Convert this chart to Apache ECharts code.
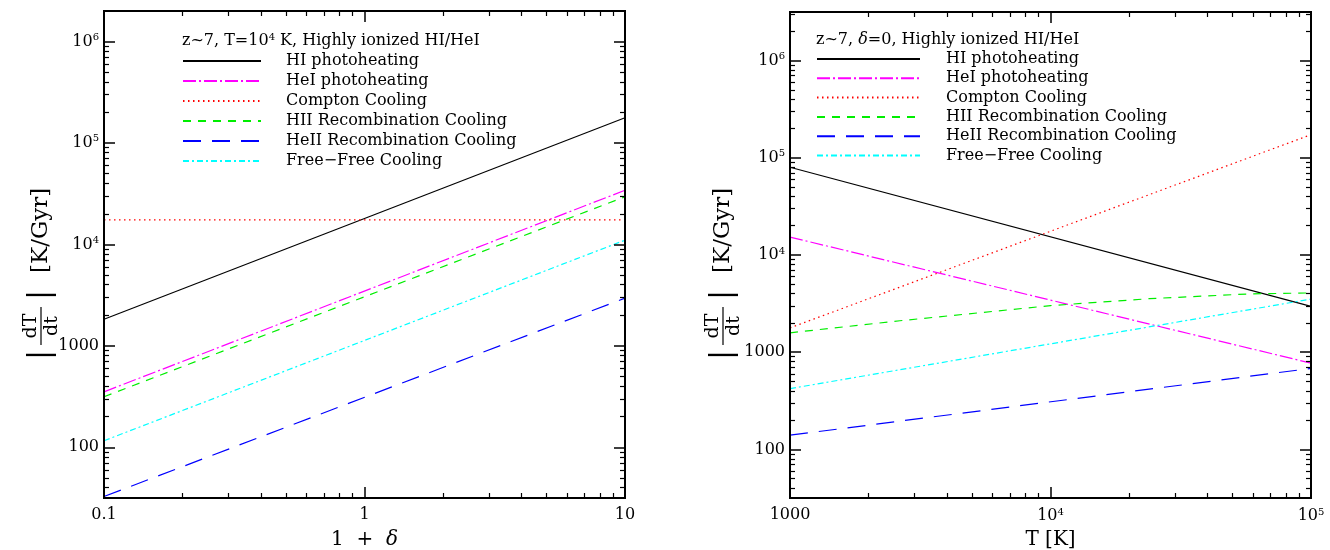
<!DOCTYPE html>
<html><head><meta charset="utf-8">
<script src="https://cdn.jsdelivr.net/npm/echarts@6/dist/echarts.min.js"></script>
<style>html,body{margin:0;padding:0;background:#fff}#c{width:1330px;height:550px}</style>
</head><body><div id="c"></div>
<script>
// ---------------- DATA ----------------
const seriesNames = ['HI photoheating','HeI photoheating','Compton Cooling','HII Recombination Cooling','HeII Recombination Cooling','Free\u2212Free Cooling'];

// Left panel: x = 1 + delta, z~7, T=1e4 K
const leftX = [0.1, 10];
const leftHI = [1830, 177000];
const leftHeI = [352, 34100];
const leftCompton = [17400, 17400];
const leftHII = [315, 29400];
const leftHeII = [32.7, 2950];
const leftFF = [116, 11000];

// Right panel: x = T [K], z~7, delta=0
const rightX = [1000, 100000];
const rightHI = [80000, 2960];
const rightHeI = [15300, 771];
const rightCompton = [1780, 173000];
const rightHIIx = [1000, 2640, 10000, 24000, 58000, 100000];
const rightHII = [1584, 2106, 3016, 3553, 3980, 4070];
const rightHeII = [140, 681];
const rightFF = [422, 3520];

// Tick values and labels
const leftXTicks = [0.1, 1, 10];
const leftXTickLabels = ['0.1', '1', '10'];
const rightXTicks = [1000, 10000, 100000];
const rightXTickLabels = ['1000', '10{s|4}', '10{s|5}'];
const yTicks = [100, 1000, 10000, 100000, 1000000];
const yTickLabels = ['100', '1000', '10{s|4}', '10{s|5}', '10{s|6}'];
const minorMult = [2, 3, 4, 5, 6, 7, 8, 9];
const leftXDecades = [0.1, 1];
const rightXDecades = [1000, 10000];
const yDecades = [10, 100, 1000, 10000, 100000, 1000000];

const leftTitle = 'z~7, T=10{s|4} K, Highly ionized HI/HeI';
const rightTitle = 'z~7, {i|\u03b4}=0, Highly ionized HI/HeI';
const leftXName = '1  +  {i|\u03b4}';
const rightXName = 'T [K]';

// ---------------- STYLE / BUILD ----------------
const FONT = 'DejaVu Serif';
const lineStyles = [
  {color: '#000000', type: 'solid'},
  {color: '#ff00ff', type: [13, 3, 2, 3]},
  {color: '#ff0000', type: [1.5, 3.5]},
  {color: '#00ee00', type: [8, 7]},
  {color: '#0000ff', type: [18, 11]},
  {color: '#00ffff', type: [6, 3, 2, 3]}
];

const LMIN = Math.pow(10, 1.5);
const YMAX_L = Math.pow(10, 6.3);
const YMAX_R = Math.pow(10, 6.5);

function minors(decades, lo, hi) {
  const out = [];
  decades.forEach(d => minorMult.forEach(m => { const v = d * m; if (v > lo && v < hi) out.push(v); }));
  return out;
}
function labelFor(ticks, labels) {
  return function (v) {
    let best = 0, bd = Infinity;
    ticks.forEach((t, i) => { const dd = Math.abs(Math.log10(v) - Math.log10(t)); if (dd < bd) { bd = dd; best = i; } });
    return labels[best];
  };
}
const richSup = {s: {fontSize: 10, fontFamily: FONT, padding: [0, 0, 8, 0]}, i: {fontStyle: 'italic', fontFamily: FONT, fontSize: 20}};

function makeAxes(dim, g, min, max, majors, labels, minorVals, name) {
  const axes = [];
  const positions = dim === 'x' ? ['bottom', 'top'] : ['left', 'right'];
  positions.forEach((pos, pi) => {
    [true, false].forEach(isMajor => {
      const ax = {
        type: 'log', logBase: 10, gridIndex: g, min: min, max: max, position: pos,
        splitLine: {show: false}, minorTick: {show: false}, minorSplitLine: {show: false},
        axisLine: {show: true, onZero: false, lineStyle: {color: '#000', width: 2}},
        axisTick: {show: true, inside: true, length: isMajor ? 11 : 5, customValues: isMajor ? majors : minorVals,
          lineStyle: {color: '#000', width: isMajor ? 1.5 : 1.2}},
        axisLabel: {show: false},
        silent: true, z: 5
      };
      if (pi === 0 && isMajor) {
        ax.axisLabel = {show: true, customValues: majors, formatter: labelFor(majors, labels),
          fontFamily: FONT, fontSize: 16, color: '#000', margin: dim === 'x' ? 9 : 5, rich: richSup, hideOverlap: false};
        if (name) {
          ax.name = name; ax.nameLocation = 'middle'; ax.nameGap = 32;
          ax.nameTextStyle = {fontFamily: FONT, fontSize: 20, color: '#000', rich: richSup};
        }
      }
      axes.push(ax);
    });
  });
  return axes;
}

const xAxes = [].concat(
  makeAxes('x', 0, 0.1, 10, leftXTicks, leftXTickLabels, minors(leftXDecades, 0.1, 10), leftXName),
  makeAxes('x', 1, 1000, 100000, rightXTicks, rightXTickLabels, minors(rightXDecades, 1000, 100000), rightXName)
);
const yAxes = [].concat(
  makeAxes('y', 0, LMIN, YMAX_L, yTicks, yTickLabels, minors(yDecades, LMIN, YMAX_L), null),
  makeAxes('y', 1, LMIN, YMAX_R, yTicks, yTickLabels, minors(yDecades, LMIN, YMAX_R), null)
);

function zip(xs, ys) { return ys.map((y, i) => [xs[i], y]); }
const leftData = [zip(leftX, leftHI), zip(leftX, leftHeI), zip(leftX, leftCompton), zip(leftX, leftHII), zip(leftX, leftHeII), zip(leftX, leftFF)];
const rightData = [zip(rightX, rightHI), zip(rightX, rightHeI), zip(rightX, rightCompton), zip(rightHIIx, rightHII), zip(rightX, rightHeII), zip(rightX, rightFF)];

const series = [];
[leftData, rightData].forEach((set, g) => {
  set.forEach((d, i) => {
    series.push({
      type: 'line', name: seriesNames[i], xAxisIndex: g * 4, yAxisIndex: g * 4, data: d,
      symbol: 'none', smooth: false, animation: false, silent: true, clip: true,
      lineStyle: {color: lineStyles[i].color, type: lineStyles[i].type, width: 1.2},
      itemStyle: {color: lineStyles[i].color}, z: 3
    });
  });
});

function yLabel(cx, cy) {
  return {
    type: 'group', x: cx, y: cy, rotation: Math.PI / 2, silent: true,
    children: [
      {type: 'text', x: 0, y: 0, style: {text: '|', font: '30px "' + FONT + '"', fill: '#000', align: 'left', verticalAlign: 'middle'}},
      {type: 'text', x: 34, y: -10, style: {text: 'dT', font: '19px "' + FONT + '"', fill: '#000', align: 'center', verticalAlign: 'middle'}},
      {type: 'line', shape: {x1: 15, y1: 0, x2: 53, y2: 0}, style: {stroke: '#000', lineWidth: 1.2}},
      {type: 'text', x: 34, y: 11, style: {text: 'dt', font: '19px "' + FONT + '"', fill: '#000', align: 'center', verticalAlign: 'middle'}},
      {type: 'text', x: 60, y: 0, style: {text: '|', font: '30px "' + FONT + '"', fill: '#000', align: 'left', verticalAlign: 'middle'}},
      {type: 'text', x: 87, y: 0, style: {text: '[K/Gyr]', font: '23px "' + FONT + '"', fill: '#000', align: 'left', verticalAlign: 'middle'}}
    ]
  };
}

const legendCommon = {
  orient: 'vertical', selectedMode: false, itemHeight: 12, padding: 0,
  itemStyle: {opacity: 0},
  textStyle: {fontFamily: FONT, fontSize: 16, color: '#000', lineHeight: 14},
  data: seriesNames
};

const option = {
  backgroundColor: '#ffffff',
  animation: false,
  grid: [
    {left: 104, top: 11, width: 521, height: 487, containLabel: false, outerBoundsMode: 'none'},
    {left: 790, top: 12, width: 521, height: 486, containLabel: false, outerBoundsMode: 'none'}
  ],
  title: [
    {text: leftTitle, left: 182, top: 32, padding: 0, textStyle: {fontFamily: FONT, fontSize: 16, fontWeight: 'normal', color: '#000', rich: richSup}},
    {text: rightTitle, left: 816, top: 32, padding: 0, textStyle: {fontFamily: FONT, fontSize: 16, fontWeight: 'normal', color: '#000', rich: {i: {fontStyle: 'italic', fontFamily: FONT, fontSize: 16}}}}
  ],
  legend: [
    Object.assign({}, legendCommon, {left: 182, top: 53, itemWidth: 78, itemGap: 4,
      textStyle: Object.assign({}, legendCommon.textStyle, {padding: [0, 0, 0, 20]})}),
    Object.assign({}, legendCommon, {left: 816, top: 51, itemWidth: 103, itemGap: 3.3,
      textStyle: Object.assign({}, legendCommon.textStyle, {padding: [0, 0, 0, 21]})})
  ],
  xAxis: xAxes,
  yAxis: yAxes,
  series: series,
  graphic: [yLabel(41, 360), yLabel(723, 360)]
};

const chart = echarts.init(document.getElementById('c'), null, {renderer: 'canvas'});
chart.setOption(option);
</script></body></html>
